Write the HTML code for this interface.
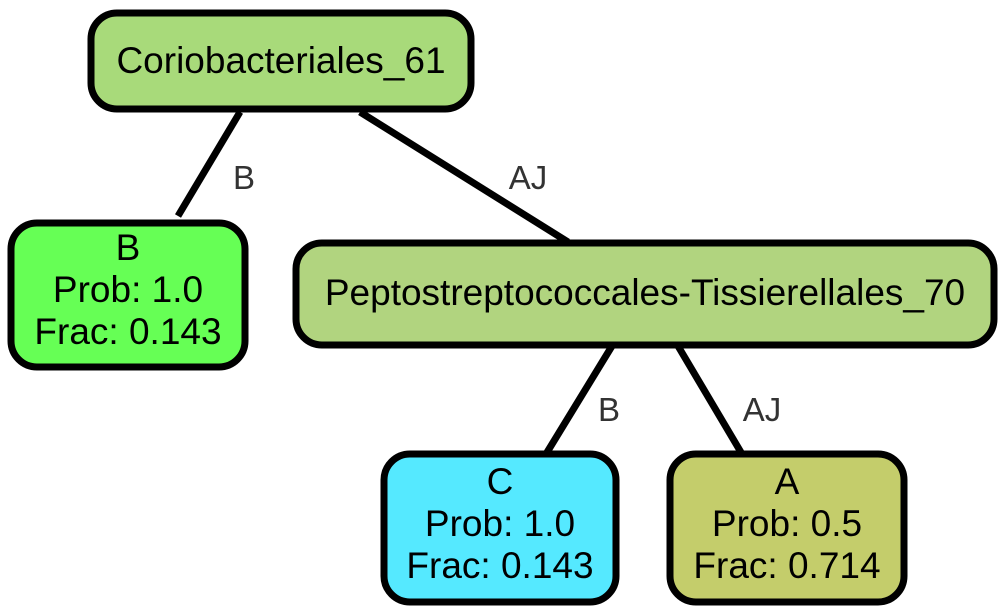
<!DOCTYPE html>
<html><head><meta charset="utf-8"><style>
html,body{margin:0;padding:0;background:#fff;width:1006px;height:613px;overflow:hidden}
text{font-family:"Liberation Sans",Arial,sans-serif}
</style></head><body>
<svg width="1006" height="613" viewBox="0 0 1006 613" xmlns="http://www.w3.org/2000/svg">
<g stroke="#000" stroke-width="7" fill="none">
<line x1="240" y1="112" x2="178" y2="216"/>
<line x1="360" y1="112" x2="568" y2="242"/>
<line x1="612" y1="346" x2="546" y2="454"/>
<line x1="678" y1="346" x2="742" y2="454"/>
</g>
<g font-size="33" fill="#333" text-anchor="middle">
<text x="244" y="189">B</text>
<text x="528" y="189">AJ</text>
<text x="609" y="421">B</text>
<text x="762" y="421">AJ</text>
</g>
<g stroke="#000" stroke-width="7">
<rect x="91" y="13" width="380" height="96" rx="26" fill="#a8da7a"/>
<rect x="11" y="223" width="234" height="144" rx="26" fill="#66ff55"/>
<rect x="296" y="243" width="698" height="102" rx="26" fill="#b1d47f"/>
<rect x="384" y="454" width="232" height="148" rx="26" fill="#55e9ff"/>
<rect x="670" y="454" width="234" height="148" rx="26" fill="#c4cd6b"/>
</g>
<g font-size="37" fill="#000" text-anchor="middle">
<text x="281" y="73">Coriobacteriales_61</text>
<text x="128" y="260">B</text>
<text x="128" y="302">Prob: 1.0</text>
<text x="128" y="344">Frac: 0.143</text>
<text x="645" y="305">Peptostreptococcales-Tissierellales_70</text>
<text x="500" y="494">C</text>
<text x="500" y="536">Prob: 1.0</text>
<text x="500" y="578">Frac: 0.143</text>
<text x="787" y="494">A</text>
<text x="787" y="536">Prob: 0.5</text>
<text x="787" y="578">Frac: 0.714</text>
</g>
</svg>
</body></html>
